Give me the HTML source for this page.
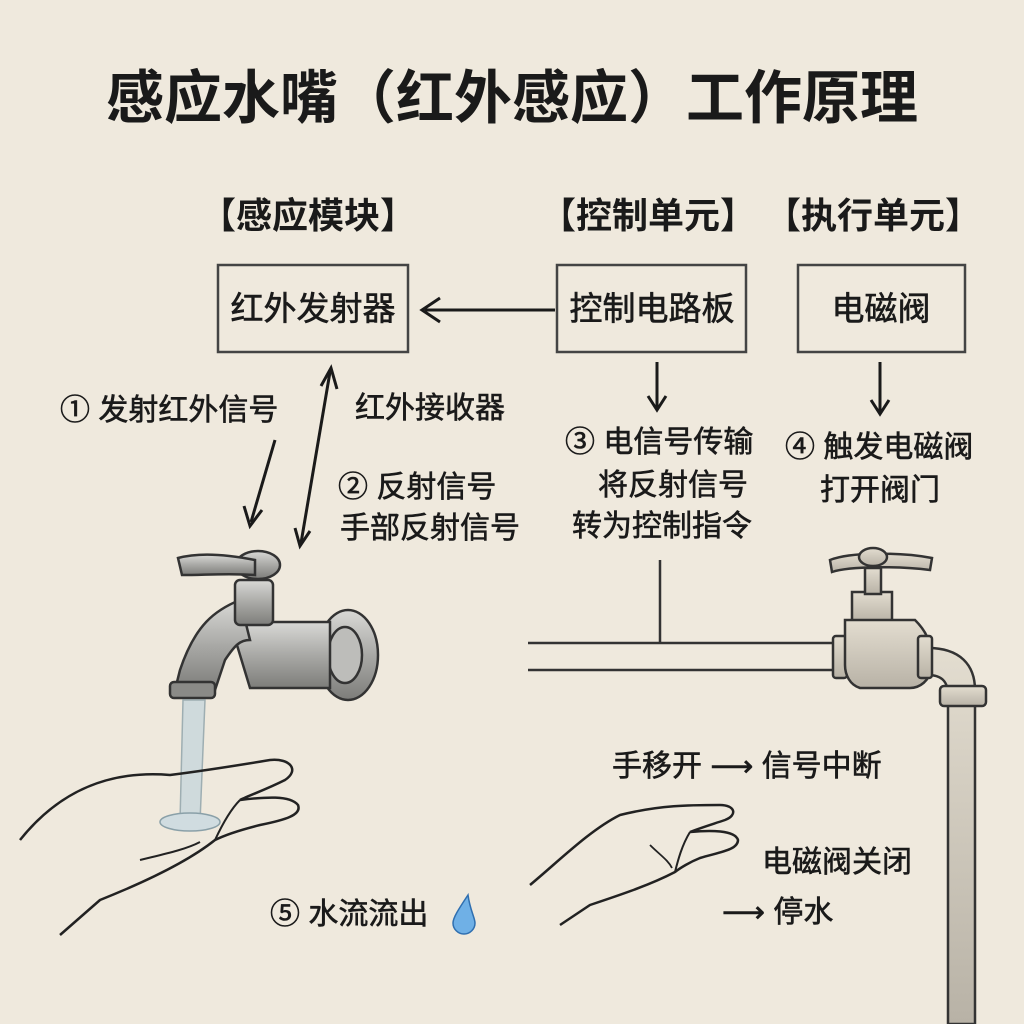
<!DOCTYPE html>
<html><head><meta charset="utf-8"><style>
html,body{margin:0;padding:0;background:#efe9dd;}
svg{display:block}
text{font-family:"Liberation Sans","Noto Sans CJK SC",sans-serif;fill:#1a1a1a;}
.b text{stroke:#1a1a1a;stroke-width:0.6;}
</style></head><body>
<svg width="1024" height="1024" viewBox="0 0 1024 1024" xmlns="http://www.w3.org/2000/svg">
<defs>
<linearGradient id="metal" x1="0" y1="0" x2="0" y2="1">
<stop offset="0" stop-color="#d9d9d6"/><stop offset="0.5" stop-color="#a9a9a6"/><stop offset="1" stop-color="#7d7d7a"/>
</linearGradient>
<linearGradient id="metalR" x1="0" y1="0" x2="0" y2="1">
<stop offset="0" stop-color="#e3ddd0"/><stop offset="1" stop-color="#b8b2a6"/>
</linearGradient>
</defs>
<rect width="1024" height="1024" fill="#efe9dd"/>

<text x="512" y="118" font-size="58" font-weight="bold" text-anchor="middle">感应水嘴（红外感应）工作原理</text>

<text x="308" y="228" font-size="36" font-weight="bold" text-anchor="middle">【感应模块】</text>
<text x="648" y="228" font-size="36" font-weight="bold" text-anchor="middle">【控制单元】</text>
<text x="873" y="228" font-size="36" font-weight="bold" text-anchor="middle">【执行单元】</text>

<g fill="none" stroke="#444" stroke-width="2.5">
<rect x="218" y="265" width="190" height="87"/>
<rect x="557" y="265" width="189" height="87"/>
<rect x="798" y="265" width="167" height="87"/>
</g>
<g class="b">
<text x="313" y="320" font-size="33" text-anchor="middle">红外发射器</text>
<text x="652" y="320" font-size="33" text-anchor="middle">控制电路板</text>
<text x="881" y="320" font-size="33" text-anchor="middle">电磁阀</text>
</g>

<g stroke="#1a1a1a" stroke-width="3" fill="none">
<line x1="555" y1="310" x2="425" y2="310"/>
<path d="M440,298 L422,310 L440,322"/>
<line x1="657" y1="362" x2="657" y2="408"/>
<path d="M648,396 L657,410 L666,396"/>
<line x1="880" y1="362" x2="880" y2="412"/>
<path d="M871,400 L880,414 L889,400"/>
<line x1="275" y1="440" x2="251" y2="522"/>
<path d="M244,506 L250,526 L262,510"/>
<line x1="330" y1="372" x2="301" y2="543"/>
<path d="M321,386 L331,368 L337,389"/>
<path d="M295,528 L300,546 L310,531"/>
</g>

<g font-size="30" class="b">
<text x="60" y="420">① 发射红外信号</text>
<text x="355" y="418">红外接收器</text>
<text x="338" y="497">② 反射信号</text>
<text x="340" y="538">手部反射信号</text>
<text x="565" y="452">③ 电信号传输</text>
<text x="598" y="495">将反射信号</text>
<text x="572" y="536">转为控制指令</text>
<text x="785" y="457">④ 触发电磁阀</text>
<text x="820" y="500">打开阀门</text>
<text x="612" y="776">手移开 ⟶ 信号中断</text>
<text x="762" y="872">电磁阀关闭</text>
<text x="722" y="922">⟶ 停水</text>
<text x="270" y="924">⑤ 水流流出</text>
</g>
<path d="M468,895 C458,910 453,918 453,923 A11,11 0 0 0 475,923 C475,918 470,910 468,895Z" fill="#6fb0e6" stroke="#2f6fb0" stroke-width="1.5"/>

<!-- left faucet -->
<g stroke="#333" stroke-width="2.5">
<ellipse cx="348" cy="655" rx="30" ry="45" fill="url(#metal)"/>
<ellipse cx="345" cy="655" rx="17" ry="28" fill="#bdbdba"/>
<path d="M230,622 L330,622 L330,688 L250,688 Z" fill="url(#metal)"/>
<path d="M240,600 C215,610 195,625 180,670 L175,690 L215,690 L225,660 C235,645 240,640 250,640 Z" fill="url(#metal)"/>
<rect x="170" y="682" width="45" height="16" rx="4" fill="#8a8a87"/>
<rect x="235" y="580" width="38" height="45" rx="5" fill="url(#metal)"/>
<ellipse cx="258" cy="565" rx="22" ry="14" fill="url(#metal)"/>
<path d="M178,558 C200,552 230,555 255,560 L255,575 C230,573 205,575 182,575 Z" fill="url(#metal)"/>
</g>
<path d="M183,700 L205,700 L200,822 L180,822 Z" fill="#c8d7dc" stroke="#8aa0a8" stroke-width="1.5" opacity="0.8"/>
<ellipse cx="190" cy="822" rx="30" ry="9" fill="#d0dce0" stroke="#8aa0a8" stroke-width="1.5"/>

<!-- left hand -->
<path d="M20,840 C60,790 110,770 170,775 C210,770 240,765 270,760 C290,758 300,770 285,780 C265,790 250,795 240,800 C265,797 290,795 298,805 C302,815 285,820 260,825 C240,830 225,835 215,840 C190,860 150,880 100,900 L60,935" fill="none" stroke="#222" stroke-width="2.5"/>
<path d="M240,800 C230,810 222,825 215,840" fill="none" stroke="#222" stroke-width="2"/>
<path d="M140,860 C160,855 185,850 200,842" fill="none" stroke="#222" stroke-width="2"/>

<!-- pipe -->
<g stroke="#333" stroke-width="2.5" fill="none">
<line x1="660" y1="560" x2="660" y2="643"/>
<line x1="528" y1="643" x2="838" y2="643"/>
<line x1="528" y1="670" x2="838" y2="670"/>
</g>
<!-- right faucet -->
<g stroke="#333" stroke-width="2.5">
<path d="M928,648 C960,648 975,665 975,690 L975,1024 L948,1024 L948,695 C948,680 940,675 928,675 Z" fill="url(#metalR)"/>
<rect x="940" y="686" width="46" height="20" rx="4" fill="url(#metalR)"/>
<rect x="852" y="592" width="40" height="30" fill="url(#metalR)"/>
<rect x="865" y="568" width="16" height="26" fill="url(#metalR)"/>
<path d="M830,560 C850,552 900,552 932,558 L930,570 C900,566 850,566 832,572 Z" fill="url(#metalR)"/>
<ellipse cx="873" cy="557" rx="14" ry="9" fill="url(#metalR)"/>
<rect x="833" y="636" width="14" height="42" rx="3" fill="url(#metalR)"/>
<path d="M845,620 L915,620 C925,630 930,640 930,650 L930,670 C930,680 920,688 910,688 L860,688 C850,685 845,675 845,665 Z" fill="url(#metalR)"/>
<rect x="918" y="636" width="14" height="42" rx="3" fill="url(#metalR)"/>
</g>

<!-- right hand -->
<path d="M530,885 C560,860 590,830 620,815 C660,805 690,805 720,805 C735,805 738,815 725,820 C710,825 700,828 690,832 C710,830 735,830 738,840 C738,850 720,852 700,858 C690,862 680,868 675,872 C650,885 620,895 590,905 L560,925" fill="none" stroke="#222" stroke-width="2.5"/>
<path d="M690,832 C682,845 678,860 675,872" fill="none" stroke="#222" stroke-width="2"/>
<path d="M650,845 C660,855 668,860 672,868" fill="none" stroke="#222" stroke-width="1.8"/>
</svg>
</body></html>
